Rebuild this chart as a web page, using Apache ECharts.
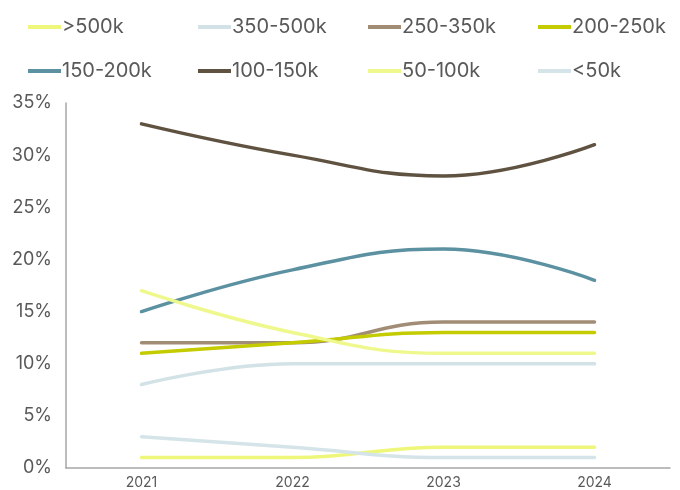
<!DOCTYPE html>
<html>
<head>
<meta charset="utf-8">
<script src="https://cdn.jsdelivr.net/npm/echarts@6/dist/echarts.min.js"></script>
<style>html,body{margin:0;padding:0;background:#fff}#chart{width:680px;height:490px}</style>
</head>
<body>
<div id="chart"></div>
<script>
const years = ['2021', '2022', '2023', '2024'];
const seriesNames = ['>500k', '350-500k', '250-350k', '200-250k', '150-200k', '100-150k', '50-100k', '<50k'];
const over500k = [1, 1, 2, 2];
const k350to500 = [8, 10, 10, 10];
const k250to350 = [12, 12, 14, 14];
const k200to250 = [11, 12, 13, 13];
const k150to200 = [15, 19, 21, 18];
const k100to150 = [33, 30, 28, 31];
const k50to100 = [17, 13, 11, 11];
const under50k = [3, 2, 1, 1];
const yTicks = [0, 5, 10, 15, 20, 25, 30, 35];

const values = [over500k, k350to500, k250to350, k200to250, k150to200, k100to150, k50to100, under50k];
const colors = ['#eef77a', '#d2e2e6', '#a18d75', '#c4cc00', '#5b91a1', '#5f5241', '#eff88c', '#d5e4e9'];
const font = 'Inter, "Open Sans", sans-serif';

// Legend laid out as a 4-column grid: one legend component per entry
const legendCols = [28, 198, 368, 538];
const legendRows = [17, 61];
const legends = seriesNames.map((name, i) => ({
  left: legendCols[i % 4], top: legendRows[Math.floor(i / 4)], padding: 0,
  data: [name], itemWidth: 33, itemHeight: 4, icon: 'rect',
  textStyle: { color: '#595959', fontSize: 20, fontFamily: font, padding: [0, 0, 0, -4] }
}));

const chart = echarts.init(document.getElementById('chart'));
chart.setOption({
  animation: false,
  color: colors,
  legend: legends,
  grid: { left: 66, right: 10, top: 103, bottom: 21 },
  xAxis: {
    type: 'category', data: years, boundaryGap: true,
    axisLine: { lineStyle: { color: '#a6a6a6', width: 1.5 } },
    axisTick: { show: false },
    axisLabel: { color: '#595959', fontSize: 14, fontFamily: font, margin: 8 }
  },
  yAxis: {
    type: 'value', min: yTicks[0], max: yTicks[yTicks.length - 1], interval: 5,
    axisLine: { show: true, lineStyle: { color: '#a6a6a6', width: 1.5 } },
    axisTick: { show: false },
    splitLine: { show: false },
    axisLabel: { color: '#595959', fontSize: 18, fontFamily: font, margin: 14, formatter: v => v + '%' }
  },
  series: seriesNames.map((name, i) => ({
    name, type: 'line', data: values[i], smooth: 0.45,
    symbol: 'none', lineStyle: { width: 3.5, color: colors[i], cap: 'round' },
    itemStyle: { color: colors[i] }
  }))
});
</script>
</body>
</html>
